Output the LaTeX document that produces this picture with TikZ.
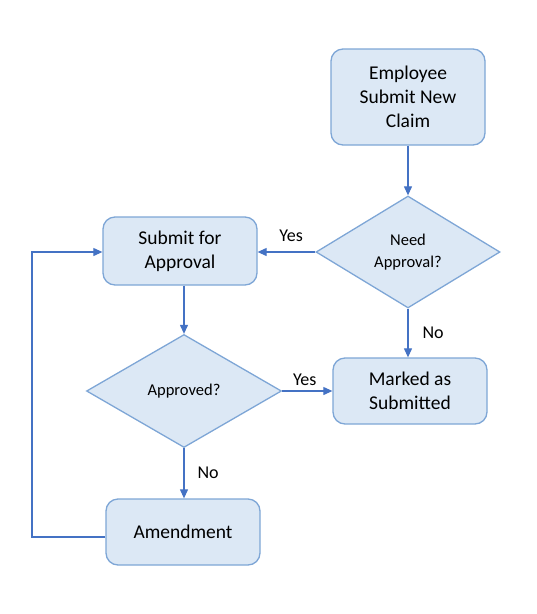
\documentclass[tikz,border=0pt]{standalone}
\usepackage{fontspec}
\setmainfont{Carlito}
\usetikzlibrary{shapes.geometric,arrows.meta}
\definecolor{boxfill}{HTML}{DCE8F5}
\definecolor{boxline}{HTML}{7EA6D6}
\definecolor{arrowc}{HTML}{4472C4}
\tikzset{
  procbox/.style={draw=boxline, fill=boxfill, line width=1.3pt, rounded corners=12pt,
    minimum width=154pt, align=center, font=\fontsize{19.5}{24}\selectfont, inner sep=0pt},
  decision/.style={draw=boxline, fill=boxfill, line width=1.3pt, diamond, inner sep=0pt,
    align=center, font=\fontsize{16.5}{22}\selectfont},
  conn/.style={draw=arrowc, line width=1.1pt, -{Triangle[width=8pt,length=9pt]}},
  lbl/.style={font=\fontsize{18}{22}\selectfont, inner sep=0pt}
}
\begin{document}
\begin{tikzpicture}[x=1pt,y=-1pt]
\useasboundingbox (0,0) rectangle (537,614);
\node[procbox, minimum height=96pt] (emp) at (408,97) {Employee\\Submit New\\Claim};
\node[decision, minimum width=184pt, minimum height=112pt] (need) at (408,252) {Need\\Approval?};
\node[procbox, minimum height=68pt] (sub) at (180,251) {Submit for\\Approval};
\node[decision, minimum width=195pt, minimum height=113pt] (appr) at (184,391) {Approved?};
\node[procbox, minimum height=66pt] (mark) at (410,391) {Marked as\\Submitted};
\node[procbox, minimum height=66pt] (amend) at (183,532) {Amendment};
\coordinate (c1) at (32,537);
\coordinate (c2) at (32,252);
\draw[conn] (emp.south -| need.north) -- (need.north);
\draw[conn] (need.west) -- (sub.east |- need.west) node[lbl, pos=0.42, above=10pt] {Yes};
\draw[conn] (need.south) -- (mark.north -| need.south) node[lbl, pos=0.5, right=14pt] {No};
\draw[conn] (sub.south -| appr.north) -- (appr.north);
\draw[conn] (appr.east) -- (mark.west |- appr.east) node[lbl, pos=0.45, above=5pt] {Yes};
\draw[conn] (appr.south) -- (amend.north -| appr.south) node[lbl, pos=0.5, right=13pt] {No};
\draw[conn] (amend.west |- c1) -- (c1) -- (c2) -- (sub.west |- c2);
\end{tikzpicture}
\end{document}
